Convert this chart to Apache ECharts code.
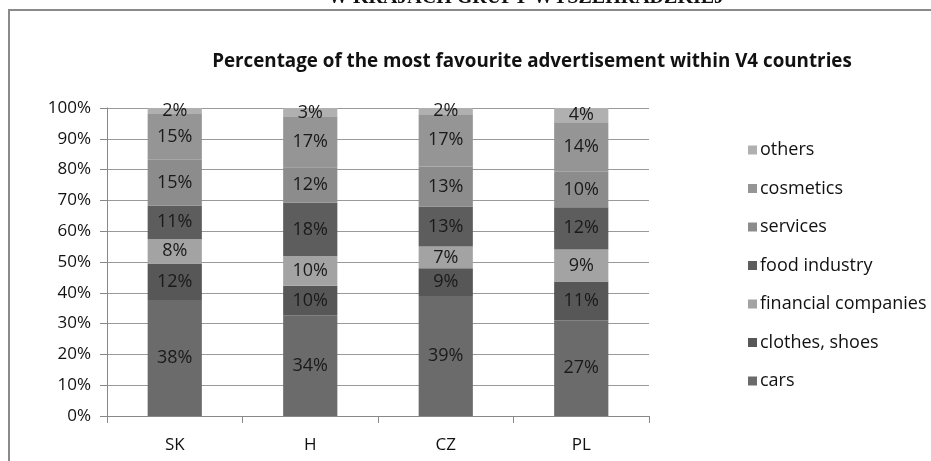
<!DOCTYPE html>
<html>
<head>
<meta charset="utf-8">
<script src="https://cdn.jsdelivr.net/npm/echarts@6/dist/echarts.min.js"></script>
<style>html,body{margin:0;padding:0;background:#fff;}#c{width:931px;height:461px;}</style>
</head>
<body>
<div id="c"></div>
<script>
var categories = ['SK', 'H', 'CZ', 'PL'];
var seriesNames = ['cars', 'clothes, shoes', 'financial companies', 'food industry', 'services', 'cosmetics', 'others'];
var cars = [38, 34, 39, 27];
var clothes = [12, 10, 9, 11];
var financial = [8, 10, 7, 9];
var food = [11, 18, 13, 12];
var services = [15, 12, 13, 10];
var cosmetics = [15, 17, 17, 14];
var others = [2, 3, 2, 4];
var yTicks = [0, 10, 20, 30, 40, 50, 60, 70, 80, 90, 100];

var colors = ['#6b6b6b', '#575757', '#a3a3a3', '#5d5d5d', '#8c8c8c', '#959595', '#b0b0b0'];
var raw = [cars, clothes, financial, food, services, cosmetics, others];
var totals = categories.map(function (c, i) {
  return raw.reduce(function (s, arr) { return s + arr[i]; }, 0);
});
var FONT = 'Open Sans';

var series = raw.map(function (arr, k) {
  return {
    name: seriesNames[k],
    type: 'bar',
    stack: 'total',
    barCategoryGap: '60%',
    itemStyle: { color: colors[k] },
    data: arr.map(function (v, i) { return { value: v / totals[i] * 100, raw: v }; }),
    label: {
      show: true,
      position: 'inside',
      color: '#1a1a1a',
      fontFamily: FONT,
      fontSize: 18,
      formatter: function (p) { return p.data.raw + '%'; }
    }
  };
});

var chart = echarts.init(document.getElementById('c'));
chart.setOption({
  animation: false,
  graphic: [
    { type: 'rect', shape: { x: 9, y: 10, width: 940, height: 470 }, style: { fill: 'none', stroke: '#8a8a8a', lineWidth: 2 } },
    { type: 'text', x: 526, y: 8, style: { text: 'W KRAJACH GRUPY WYSZEHRADZKIEJ', font: 'bold 20px "Liberation Serif"', fill: '#111', textAlign: 'center', textVerticalAlign: 'bottom' } }
  ],
  title: {
    text: 'Percentage of the most favourite advertisement within V4 countries',
    left: 527, top: 47, textAlign: 'center',
    textStyle: { fontFamily: FONT, fontWeight: 'bold', fontSize: 18.8, color: '#111' }
  },
  legend: {
    orient: 'vertical',
    left: 743, top: 136,
    itemWidth: 9, itemHeight: 9, itemGap: 20.5,
    icon: 'rect',
    data: seriesNames.slice().reverse(),
    textStyle: { fontFamily: FONT, fontSize: 18, lineHeight: 18, color: '#111', padding: [0, 0, 0, -2] }
  },
  grid: { left: 107, right: 282, top: 108, bottom: 45 },
  xAxis: {
    type: 'category',
    data: categories,
    axisLine: { lineStyle: { color: '#888' } },
    axisTick: { show: true, length: 7, lineStyle: { color: '#888' } },
    axisLabel: { color: '#111', fontFamily: FONT, fontSize: 17, margin: 21 }
  },
  yAxis: {
    type: 'value', min: 0, max: 100, interval: 10,
    axisLine: { show: true, lineStyle: { color: '#888' } },
    axisTick: { show: true, length: 7, lineStyle: { color: '#888' } },
    splitLine: { lineStyle: { color: '#999' } },
    axisLabel: { color: '#111', fontFamily: FONT, fontSize: 17, margin: 16, formatter: function (v) { return yTicks.indexOf(v) >= 0 ? v + '%' : ''; } }
  },
  series: series
});
</script>
</body>
</html>
